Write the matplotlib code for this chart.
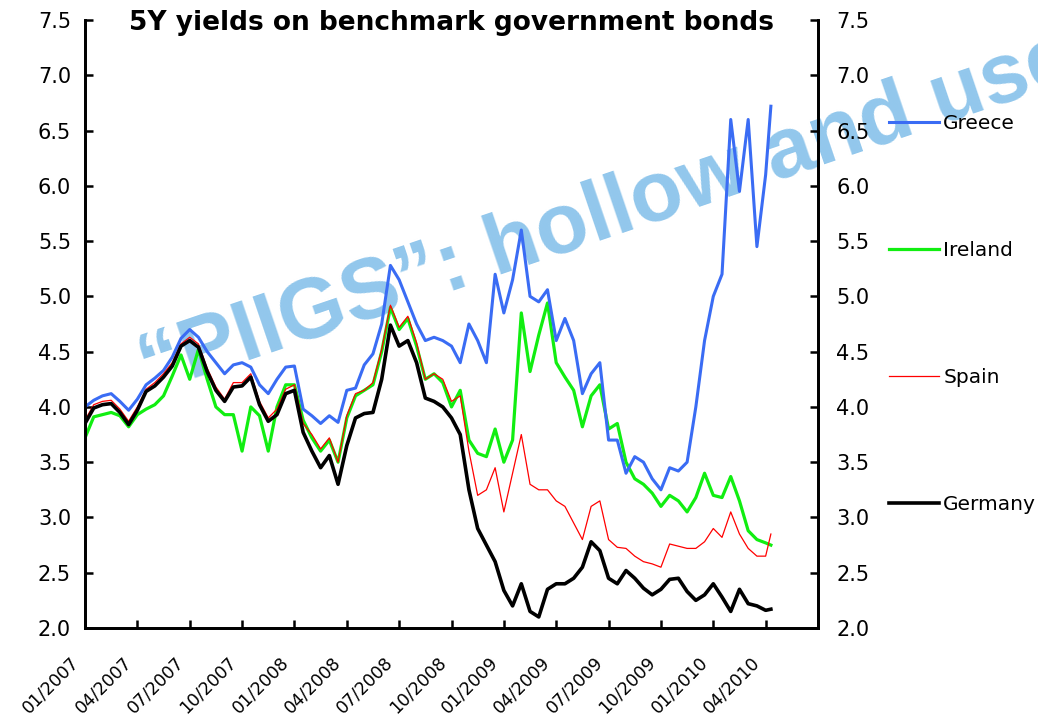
import numpy as np
import matplotlib
matplotlib.use("Agg")
import matplotlib.pyplot as plt
from matplotlib.transforms import ScaledTranslation

# months since 01/2007, half-month steps, last point mid-April 2010
months = list(np.arange(0, 39.5, 0.5)) + [39.3]

greece = [4.00, 4.06, 4.10, 4.12, 4.05, 3.97, 4.07, 4.20, 4.26, 4.33,
          4.45, 4.62, 4.70, 4.63, 4.50, 4.40, 4.30, 4.38, 4.40, 4.36,
          4.20, 4.12, 4.25, 4.36, 4.37, 3.98, 3.92, 3.85, 3.92, 3.86,
          4.15, 4.17, 4.38, 4.48, 4.75, 5.28, 5.15, 4.95, 4.75, 4.60,
          4.63, 4.60, 4.55, 4.40, 4.75, 4.60, 4.40, 5.20, 4.85, 5.15,
          5.60, 5.00, 4.95, 5.06, 4.60, 4.80, 4.60, 4.12, 4.30, 4.40,
          3.70, 3.70, 3.40, 3.55, 3.50, 3.35, 3.25, 3.45, 3.42, 3.50,
          4.00, 4.60, 5.00, 5.20, 6.60, 5.95, 6.60, 5.45, 6.10, 6.72]
ireland = [3.72, 3.91, 3.93, 3.95, 3.92, 3.82, 3.93, 3.98, 4.02, 4.10,
           4.28, 4.47, 4.25, 4.52, 4.25, 4.00, 3.93, 3.93, 3.60, 4.00,
           3.92, 3.60, 4.00, 4.20, 4.20, 3.88, 3.72, 3.60, 3.70, 3.50,
           3.90, 4.10, 4.15, 4.20, 4.50, 4.90, 4.70, 4.80, 4.55, 4.25,
           4.30, 4.22, 4.00, 4.15, 3.70, 3.58, 3.55, 3.80, 3.50, 3.70,
           4.85, 4.32, 4.65, 4.94, 4.40, 4.27, 4.15, 3.82, 4.10, 4.20,
           3.80, 3.85, 3.50, 3.35, 3.30, 3.22, 3.10, 3.20, 3.15, 3.05,
           3.18, 3.40, 3.20, 3.18, 3.37, 3.15, 2.88, 2.80, 2.77, 2.75]
spain = [3.88, 4.02, 4.05, 4.06, 3.98, 3.87, 4.00, 4.16, 4.22, 4.30,
         4.40, 4.57, 4.63, 4.57, 4.35, 4.18, 4.07, 4.22, 4.22, 4.30,
         4.05, 3.90, 3.98, 4.16, 4.20, 3.85, 3.75, 3.62, 3.72, 3.50,
         3.92, 4.12, 4.15, 4.22, 4.52, 4.92, 4.72, 4.82, 4.58, 4.25,
         4.30, 4.25, 4.05, 4.10, 3.60, 3.20, 3.25, 3.45, 3.05, 3.40,
         3.75, 3.30, 3.25, 3.25, 3.15, 3.10, 2.95, 2.80, 3.10, 3.15,
         2.80, 2.73, 2.72, 2.65, 2.60, 2.58, 2.55, 2.76, 2.74, 2.72,
         2.72, 2.78, 2.90, 2.82, 3.05, 2.85, 2.72, 2.65, 2.65, 2.85]
germany = [3.85, 3.99, 4.02, 4.03, 3.95, 3.84, 3.97, 4.14, 4.19, 4.27,
           4.37, 4.55, 4.60, 4.54, 4.32, 4.15, 4.05, 4.18, 4.19, 4.27,
           4.02, 3.87, 3.93, 4.12, 4.15, 3.77, 3.60, 3.45, 3.56, 3.30,
           3.65, 3.90, 3.94, 3.95, 4.25, 4.74, 4.55, 4.60, 4.40, 4.08,
           4.05, 4.00, 3.90, 3.75, 3.25, 2.90, 2.75, 2.60, 2.34, 2.20,
           2.40, 2.15, 2.10, 2.35, 2.40, 2.40, 2.45, 2.55, 2.78, 2.70,
           2.45, 2.40, 2.52, 2.45, 2.36, 2.30, 2.35, 2.44, 2.45, 2.33,
           2.25, 2.30, 2.40, 2.28, 2.15, 2.35, 2.22, 2.20, 2.16, 2.17]

tick_months = list(range(0, 42, 3))
tick_labels = ["01/2007", "04/2007", "07/2007", "10/2007",
               "01/2008", "04/2008", "07/2008", "10/2008",
               "01/2009", "04/2009", "07/2009", "10/2009",
               "01/2010", "04/2010"]
y_ticks = [2.0, 2.5, 3.0, 3.5, 4.0, 4.5, 5.0, 5.5, 6.0, 6.5, 7.0, 7.5]

W, H = 1038, 725
fig = plt.figure(figsize=(W / 100, H / 100), dpi=100)
ax = fig.add_axes([85 / W, 97 / H, 733 / W, 608 / H])
ax.set_facecolor("none")

# watermark behind everything (runs off the right edge as in the original)
fig.text(150 / W, 1 - 394 / H, "\u201cPIIGS\u201d: hollow and use",
         rotation=18.8, rotation_mode="anchor", ha="left", va="baseline",
         fontsize=61.5, fontweight="bold", family="Liberation Sans",
         color="#92c7ec", zorder=-1)

ax.plot(months, ireland, color="#11ee11", lw=2.3, label="Ireland", zorder=2)
ax.plot(months, greece, color="#3a6cf4", lw=2.2, label="Greece", zorder=3)
ax.plot(months, spain, color="#ff0000", lw=0.9, label="Spain", zorder=4)
ax.plot(months, germany, color="black", lw=2.6, label="Germany", zorder=5)

ax.set_xlim(0, 42)
ax.set_ylim(2, 7.5)
ax.set_xticks(tick_months)
ax.set_xticklabels(tick_labels, rotation=45, ha="right", va="top",
                   rotation_mode="anchor", fontsize=12.5)
ax.set_yticks(y_ticks)
ax.set_yticklabels([f"{v:.1f}" for v in y_ticks], fontsize=15)
ax.tick_params(axis="x", direction="in", length=6, width=1.8, pad=18)
ax.tick_params(axis="y", direction="in", length=6, width=1.8, pad=10)
off = ScaledTranslation(-15 / 100, 0, fig.dpi_scale_trans)
for lab in ax.get_xticklabels():
    lab.set_transform(lab.get_transform() + off)

ax2 = ax.twinx()
ax2.set_ylim(2, 7.5)
ax2.set_yticks(y_ticks)
ax2.set_yticklabels([f"{v:.1f}" for v in y_ticks], fontsize=15)
ax2.tick_params(axis="y", direction="in", length=6, width=1.8, pad=13)

for a in (ax, ax2):
    a.spines["top"].set_visible(False)
    for s in ("left", "right", "bottom"):
        a.spines[s].set_linewidth(2)

handles, labels = ax.get_legend_handles_labels()
order = [1, 0, 2, 3]
ax2.legend([handles[i] for i in order], [labels[i] for i in order],
           loc="upper left", bbox_to_anchor=(889 / W, 1 - 114 / H),
           bbox_transform=fig.transFigure, frameon=False, fontsize=14.5,
           handlelength=2.48, handletextpad=0.22, labelspacing=5.37,
           borderpad=0, borderaxespad=0)

fig.text(0.5 * (85 + 818) / W, 1 - 23 / H, "5Y yields on benchmark government bonds",
         ha="center", va="center", fontsize=19, fontweight="bold")

fig.savefig("out.png", dpi=100)
